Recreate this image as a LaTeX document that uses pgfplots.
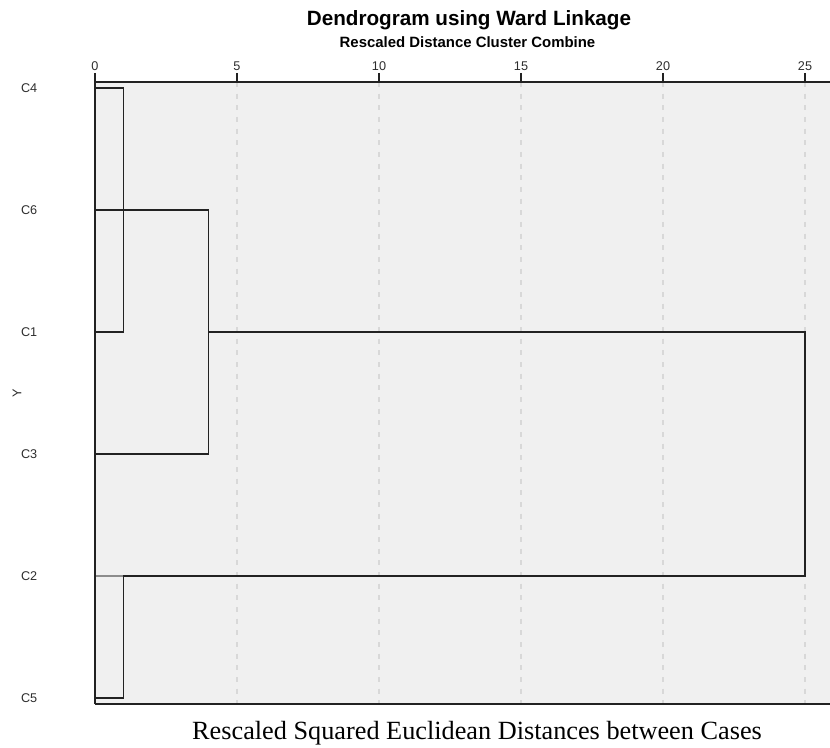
\documentclass[border=0pt]{standalone}
\usepackage{pgfplots}
\pgfplotsset{compat=1.18}
\usepackage{fontspec}
\setmainfont{Liberation Serif}
\newfontfamily\arial{Liberation Sans}

\definecolor{plotbg}{RGB}{240,240,240}
\definecolor{gridc}{RGB}{216,216,216}
\definecolor{linec}{RGB}{34,34,34}
\definecolor{labc}{RGB}{45,45,45}

\begin{document}
\begin{tikzpicture}
% fixed page frame, 1 px = 0.75 pt
\useasboundingbox (0,0) rectangle (622.5pt,561pt);
\begin{axis}[
  at={(71.25pt,33pt)}, anchor=south west,
  scale only axis, width=551.25pt, height=466.5pt,
  xmin=0, xmax=25.88, ymin=0.95, ymax=6.05, y dir=reverse,
  clip=false,
  axis background/.style={fill=plotbg},
  axis line style={draw=none},
  xtick={0,5,10,15,20,25},
  xtick pos=right, xticklabel pos=right,
  tick align=outside,
  major tick length=6.75pt,
  xtick style={draw=linec, line width=1pt},
  xticklabel style={font=\arial\fontsize{9.5}{11}\selectfont, text=labc, yshift=-1.5pt},
  /pgf/number format/assume math mode=true,
  ytick={1,2,3,4,5,6},
  yticklabels={C4,C6,C1,C3,C2,C5},
  ytick style={draw=none},
  yticklabel style={font=\arial\fontsize{9.5}{11}\selectfont, text=labc, xshift=-33pt},
  xmajorgrids,
  major grid style={draw=gridc, line width=1pt, dash pattern=on 3.75pt off 5pt},
  ylabel={Y},
  ylabel style={at={(axis description cs:-0.1061,0.5)}, anchor=center,
                font=\arial\fontsize{9.5}{11}\selectfont, text=labc},
]
% frame: left, top and bottom sides only
\draw[linec, line width=1.1pt] (rel axis cs:0,0) -- (rel axis cs:1,0);
\draw[linec, line width=1.1pt] (rel axis cs:0,1) -- (rel axis cs:1,1);

% merges: (C4,C1) at 1, (C6,C3) at 4, (C2,C5) at 1, final join at 25
\addplot[linec, line width=1.1pt, mark=none] coordinates {(0,1) (1,1) (1,3) (0,3)};
\addplot[linec, line width=1.1pt, mark=none] coordinates {(0,2) (4,2) (4,4) (0,4)};
\addplot[linec, line width=1.1pt, mark=none] coordinates {(4,3) (25,3) (25,5) (1,5)};
\addplot[black!45, line width=1.1pt, mark=none] coordinates {(0,5) (1,5)};
\addplot[linec, line width=1.1pt, mark=none] coordinates {(1,5) (1,6) (0,6)};

\draw[linec, line width=1.5pt] (rel axis cs:0,0) -- (rel axis cs:0,1);
\end{axis}

\node[anchor=base, font=\arial\bfseries\fontsize{15.5}{18}\selectfont]
  at (351.75pt,541.9pt) {Dendrogram using Ward Linkage};
\node[anchor=base, font=\arial\bfseries\fontsize{11.2}{13}\selectfont]
  at (350.6pt,525pt) {Rescaled Distance Cluster Combine};
\node[anchor=base, font=\fontsize{19.7}{22}\selectfont]
  at (357.75pt,6pt) {Rescaled Squared Euclidean Distances between Cases};
\end{tikzpicture}
\end{document}
